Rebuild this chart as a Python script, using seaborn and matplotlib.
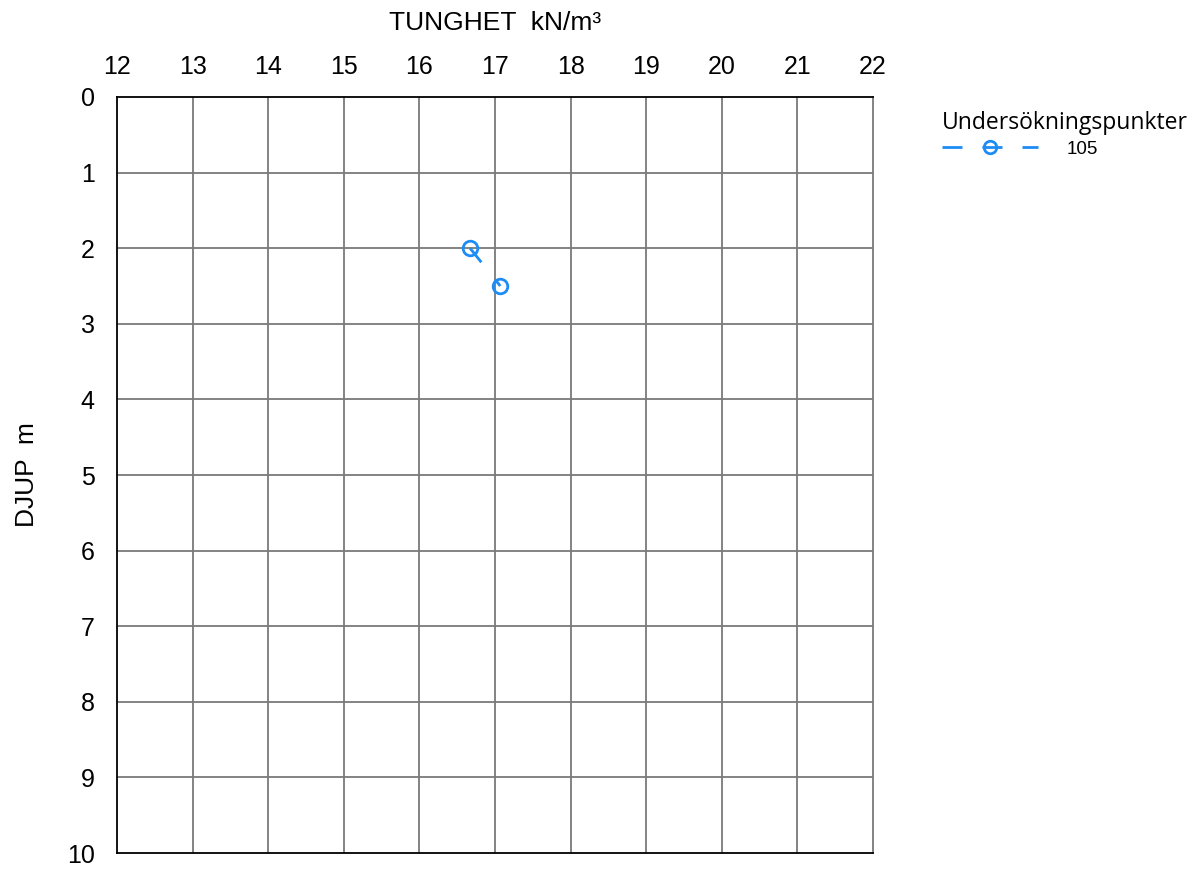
import matplotlib
matplotlib.use("Agg")
import matplotlib.pyplot as plt
import seaborn as sns
import pandas as pd
from matplotlib.lines import Line2D

# Density measurements at borehole 105
tunghet = [16.67, 17.07]
djup = [2.0, 2.5]
punkt = ["105", "105"]

x_ticks = list(range(12, 23))
y_ticks = list(range(0, 11))

sns.set_theme(style="white")
plt.rcParams["font.family"] = ["Liberation Sans", "DejaVu Sans"]
plt.rcParams["text.color"] = "black"
plt.rcParams["axes.labelcolor"] = "black"

df = pd.DataFrame({"TUNGHET": tunghet, "DJUP": djup, "Punkt": punkt})

fig = plt.figure(figsize=(11.96, 8.69), dpi=100)
ax_bottom = 1 - 853 / 869
ax_height = (853 - 97) / 869
ax = fig.add_axes([117 / 1196, ax_bottom, (873 - 117) / 1196, ax_height])

blue = "#1E8CF5"
sns.lineplot(data=df, x="TUNGHET", y="DJUP", sort=False, estimator=None,
             color=blue, linewidth=2, linestyle=(0, (6.5, 8)),
             marker="o", markersize=10.5, markerfacecolor="none",
             markeredgecolor=blue, markeredgewidth=2, ax=ax, legend=False)

ax.set_xlim(12, 22)
ax.set_ylim(10, 0)
ax.set_xticks(x_ticks)
ax.set_yticks(y_ticks)
ax.xaxis.tick_top()
ax.xaxis.set_label_position("top")
ax.tick_params(axis="both", length=0, labelsize=18, colors="black")
ax.tick_params(axis="x", pad=13)
ax.tick_params(axis="y", pad=16)

grid_col = "#7a7a7a"
for v in x_ticks[1:-1]:
    ax.axvline(v, color=grid_col, linewidth=1.3, zorder=0)
for v in y_ticks[1:-1]:
    ax.axhline(v, color=grid_col, linewidth=1.3, zorder=0)

for name, s in ax.spines.items():
    s.set_visible(True)
    s.set_color("black" if name != "right" else grid_col)
    s.set_linewidth(1.3)

ax.set_xlabel("TUNGHET  kN/m³", fontsize=19, labelpad=18, color="black")
ax.set_ylabel("DJUP  m", fontsize=19, color="black")
ax.yaxis.set_label_coords(27 / 1196, ax_bottom + ax_height / 2, transform=fig.transFigure)
ax.yaxis.label.set_verticalalignment("center")

handle = Line2D([0], [0], color=blue, linewidth=2, linestyle=(0, (7.2, 7.2)),
                marker="o", markersize=9, markerfacecolor="none",
                markeredgecolor=blue, markeredgewidth=2)
leg = fig.legend([handle], ["105"], title="Undersökningspunkter",
                 loc="upper left", bbox_to_anchor=(925 / 1196, 1 - 94 / 869),
                 frameon=False, handlelength=5.1, handletextpad=1.55,
                 fontsize=13.5, title_fontsize=16.5, labelspacing=0.3)
leg.get_title().set_family(["Open Sans", "DejaVu Sans"])
leg.get_title().set_color("black")
for t in leg.get_texts():
    t.set_color("black")
leg._legend_box.align = "left"

fig.savefig("out.png", dpi=100)
